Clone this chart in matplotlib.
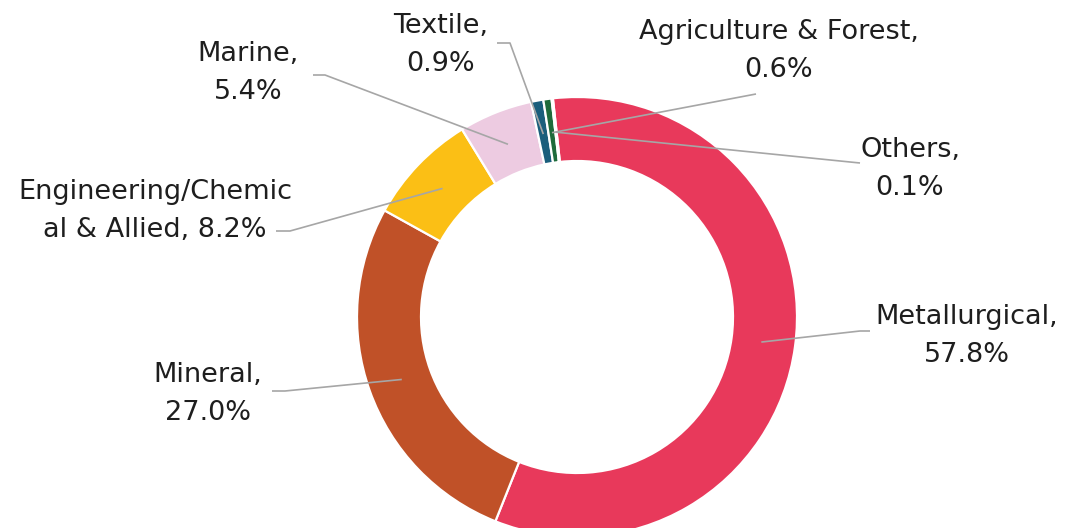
import numpy as np
import matplotlib.pyplot as plt

plt.rcParams['font.family'] = ['DejaVu Sans']

# Shares by sector (%)
sectors = ['Metallurgical', 'Mineral', 'Engineering/Chemical & Allied', 'Marine',
           'Textile', 'Agriculture & Forest', 'Others']
shares = [57.8, 27.0, 8.2, 5.4, 0.9, 0.6, 0.1]
label_texts = ['Metallurgical,\n57.8%', 'Mineral,\n27.0%', 'Engineering/Chemic\nal & Allied, 8.2%',
               'Marine,\n5.4%', 'Textile,\n0.9%', 'Agriculture & Forest,\n0.6%', 'Others,\n0.1%']
colors = ['#E8395B', '#C05128', '#FBBF15', '#EDCBE1', '#1A5E7C', '#1E6B3B', '#BFBFBF']

# Canvas in pixel units (y up)
W, H = 1066, 528
cx, cy, R, ring = 577, H - 317, 220, 64
line_gap = 38

# label centre x and baseline of the last line, in pixels measured from the top
label_pos = [(967, 362), (208, 420), (155, 237), (248, 99), (441, 71), (779, 77), (910, 195)]
elbows = [((870, 331), (860, 331)),
          ((272, 391), (285, 391)),
          ((276, 231), (290, 231)),
          ((313, 75), (325, 75)),
          ((497, 43), (510, 43)),
          ((756, 94), (756, 94)),
          ((860, 163), (850, 162))]

fig = plt.figure(figsize=(W / 100, H / 100), dpi=100)
ax = fig.add_axes([0, 0, 1, 1])

wedges, _ = ax.pie(shares, colors=colors, startangle=96.3, counterclock=False,
                   center=(cx, cy), radius=R,
                   wedgeprops=dict(width=ring, edgecolor='white', linewidth=1.6))

r_mid = R - ring / 2 - 2
for w, txt, (lx, ly), (e0, e1) in zip(wedges, label_texts, label_pos, elbows):
    mid = np.deg2rad((w.theta1 + w.theta2) / 2)
    px, py = cx + r_mid * np.cos(mid), cy + r_mid * np.sin(mid)
    ax.plot([e0[0], e1[0], px], [H - e0[1], H - e1[1], py],
            color='#A6A6A6', lw=1.2, solid_capstyle='butt', zorder=3)
    lines = txt.split('\n')
    for k, line in enumerate(reversed(lines)):
        ax.text(lx, H - ly + k * line_gap, line, ha='center', va='baseline',
                fontsize=19.5, color='#1E1E1E')

ax.set_xlim(0, W)
ax.set_ylim(0, H)
ax.set_aspect('equal')
ax.axis('off')

fig.savefig('out.png', dpi=100)
